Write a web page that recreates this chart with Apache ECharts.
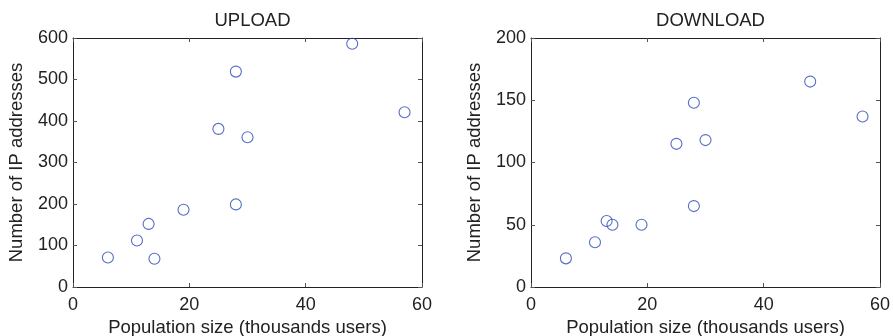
<!DOCTYPE html>
<html>
<head>
<meta charset="utf-8">
<script src="https://cdn.jsdelivr.net/npm/echarts@6/dist/echarts.min.js"></script>
<style>
html,body{margin:0;padding:0;background:#fff;}
#c{width:893px;height:336px;}
</style>
</head>
<body>
<div id="c"></div>
<script>
const titles = ['UPLOAD', 'DOWNLOAD'];
const xTicks = [0, 20, 40, 60];
const uploadX = [6, 11, 13, 14, 19, 25, 28, 28, 30, 48, 57];
const uploadY = [71, 112, 152, 68, 186, 381, 519, 199, 361, 586, 421];
const downloadX = [6, 11, 13, 14, 19, 25, 28, 28, 30, 48, 57];
const downloadY = [23, 36, 53, 50, 50, 115, 148, 65, 118, 165, 137];
const yMaxes = [600, 200];
const yIntervals = [100, 50];

const FONT = 'Liberation Sans, Arial, sans-serif';
const TXT = '#222';
const FS = 18;
const FSN = 18.5;

const grids = [
  {left: 73, top: 38, width: 349, height: 249, outerBoundsMode: 'none', containLabel: false},
  {left: 531, top: 38, width: 349, height: 249, outerBoundsMode: 'none', containLabel: false}
];

const xAxes = [], yAxes = [], series = [], titleOpts = [];
grids.forEach((g, i) => {
  titleOpts.push({
    text: titles[i], left: g.left + g.width / 2, top: 6, textAlign: 'center',
    textStyle: {fontFamily: FONT, fontSize: FSN, fontWeight: 'normal', color: TXT}
  });
  const common = {
    type: 'value', gridIndex: i, min: 0, max: 60, interval: 20,
    axisLine: {show: true, onZero: false, lineStyle: {color: '#222', width: 1}},
    axisTick: {show: true, inside: true, length: 4, lineStyle: {color: '#555'}},
    splitLine: {show: false}
  };
  xAxes.push(Object.assign({}, common, {
    position: 'bottom',
    name: 'Population size (thousands users)', nameLocation: 'middle', nameGap: 29,
    nameTextStyle: {fontFamily: FONT, fontSize: FSN, color: TXT},
    axisLabel: {fontFamily: FONT, fontSize: FS, color: TXT, margin: 9}
  }));
  xAxes.push(Object.assign({}, common, {position: 'top', axisLabel: {show: false}}));
  const ycommon = Object.assign({}, common, {min: 0, max: yMaxes[i], interval: yIntervals[i]});
  yAxes.push(Object.assign({}, ycommon, {
    position: 'left',
    name: 'Number of IP addresses', nameLocation: 'middle', nameGap: 47,
    nameTextStyle: {fontFamily: FONT, fontSize: FSN, color: TXT},
    axisLabel: {fontFamily: FONT, fontSize: FS, color: TXT, margin: 5}
  }));
  yAxes.push(Object.assign({}, ycommon, {position: 'right', axisLabel: {show: false}}));
});

function pts(xs, ys) { return xs.map((x, k) => [x, ys[k]]); }
series.push({
  type: 'scatter', xAxisIndex: 0, yAxisIndex: 0, data: pts(uploadX, uploadY),
  symbol: 'circle', symbolSize: 11,
  itemStyle: {color: 'rgba(0,0,0,0)', borderColor: '#2a48b4', borderWidth: 1.1}
});
series.push({
  type: 'scatter', xAxisIndex: 2, yAxisIndex: 2, data: pts(downloadX, downloadY),
  symbol: 'circle', symbolSize: 11,
  itemStyle: {color: 'rgba(0,0,0,0)', borderColor: '#2a48b4', borderWidth: 1.1}
});

const chart = echarts.init(document.getElementById('c'), null, {renderer: 'canvas'});
chart.setOption({
  animation: false,
  backgroundColor: '#fff',
  title: titleOpts,
  grid: grids,
  xAxis: xAxes,
  yAxis: yAxes,
  series: series
});
</script>
</body>
</html>
